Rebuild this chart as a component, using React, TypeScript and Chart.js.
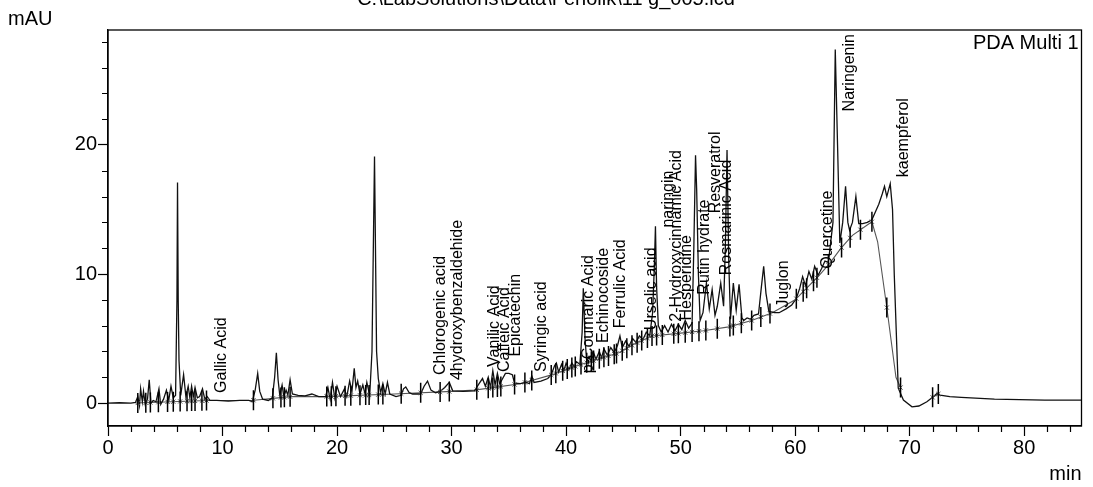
import { useEffect, useRef } from "react";
import { Chart, registerables } from "chart.js";

Chart.register(...registerables);

const TITLE = "C:\\LabSolutions\\Data\\Fenolik\\11 g_005.lcd";
const CHANNEL = "PDA Multi 1";
const Y_UNIT = "mAU";
const X_UNIT = "min";

const xTicks = [0, 10, 20, 30, 40, 50, 60, 70, 80];
const yTicks = [0, 10, 20];

// chromatogram trace: [time (min), absorbance (mAU)]
const tracePoints: [number, number][] = [
  [0, 0], [1, 0.02], [2, 0.0], [2.4, 0.05],
  [2.6, 0.5], [2.75, -0.2], [2.85, 1.1], [3.0, 0.1], [3.1, 0.9], [3.25, -0.1], [3.45, 0.3], [3.6, 1.8],
  [3.75, 0.0], [3.95, 0.2], [4.2, 0.1], [4.45, 1.1], [4.6, -0.1], [4.85, 0.3], [5.1, 1.0], [5.3, 0.2],
  [5.5, 1.3], [5.7, 0.4], [5.9, 0.6], [6.02, 8], [6.07, 17.1], [6.13, 8], [6.2, 3.3], [6.35, 0.6],
  [6.6, 2.2], [6.8, 0.5], [7.0, 1.3], [7.15, 0.4], [7.3, 1.3], [7.45, 0.5], [7.6, 1.2], [7.8, 0.4],
  [8.0, 0.5], [8.25, 1.1], [8.45, 0.3], [8.65, 0.5], [8.9, 0.2], [9.5, 0.2], [10.5, 0.15], [11.5, 0.2],
  [12.3, 0.2], [12.6, 0.1], [12.85, 1.0], [13.07, 2.3], [13.25, 0.9], [13.5, 0.3], [14.0, 0.2],
  [14.35, 0.4], [14.55, 2.0], [14.7, 3.9], [14.85, 1.8], [15.0, 0.6], [15.2, 1.4], [15.35, 0.5],
  [15.55, 1.0], [15.7, 0.6], [15.9, 1.8], [16.1, 0.7], [16.6, 0.6], [17.2, 0.55], [17.8, 0.7],
  [18.4, 0.5], [19.0, 0.5], [19.2, 1.2], [19.4, 0.3], [19.6, 1.6], [19.8, 0.4], [20.0, 1.3],
  [20.3, 0.5], [20.65, 1.1], [20.85, 0.5], [21.1, 1.7], [21.3, 0.9], [21.5, 2.7], [21.65, 1.2],
  [21.8, 1.7], [22.0, 0.7], [22.25, 1.4], [22.45, 0.7], [22.6, 1.6], [22.85, 0.6], [23.05, 4],
  [23.27, 19.1], [23.45, 4], [23.6, 1.9], [23.8, 0.8], [24.0, 1.5], [24.2, 0.7], [24.4, 1.6],
  [24.6, 0.7], [25.15, 0.5], [25.6, 0.6], [25.8, 1.1], [26.0, 1.25], [26.3, 0.8], [26.6, 0.7],
  [27.3, 0.7], [27.6, 1.3], [27.9, 1.7], [28.2, 1.0], [28.6, 0.8], [29.0, 0.9], [29.4, 1.2],
  [29.8, 1.6], [30.1, 0.95], [31, 0.9], [32.0, 0.95], [32.4, 1.5], [32.7, 1.9], [32.95, 1.3],
  [33.2, 2.0], [33.4, 1.2], [33.6, 2.5], [33.8, 1.4], [34.0, 2.3], [34.2, 1.5], [34.4, 1.8],
  [34.7, 2.3], [35.0, 2.3], [35.3, 2.2], [35.5, 1.55], [36.0, 1.5], [36.5, 1.6], [36.8, 1.5],
  [37.0, 2.1], [37.2, 1.6], [37.8, 1.7], [38.4, 1.9], [38.7, 2.2], [39.0, 2.9], [39.15, 3.1],
  [39.35, 2.4], [39.6, 3.0], [39.8, 2.5], [40.0, 3.1], [40.25, 2.6], [40.5, 3.1], [40.7, 2.8],
  [40.9, 3.2], [41.2, 3.0], [41.4, 5.5], [41.5, 8.9], [41.65, 5], [41.8, 3.2], [42.0, 3.6],
  [42.2, 3.2], [42.4, 3.9], [42.6, 3.4], [42.9, 4.0], [43.1, 3.5], [43.3, 4.2], [43.6, 3.7],
  [43.9, 4.3], [44.2, 3.9], [44.5, 4.5], [44.7, 5.2], [44.9, 4.3], [45.2, 4.8], [45.5, 4.4],
  [45.8, 5.0], [46.1, 4.7], [46.4, 5.2], [46.7, 4.9], [47.0, 5.5], [47.3, 5.2], [47.55, 7],
  [47.7, 10.5], [47.8, 13.7], [47.9, 9], [48.05, 6.0], [48.3, 5.5], [48.6, 6.0], [48.9, 5.5],
  [49.2, 6.1], [49.5, 5.6], [49.8, 6.1], [50.1, 5.7], [50.4, 6.4], [50.7, 5.8], [51.0, 6.2],
  [51.15, 12], [51.3, 19.2], [51.4, 16.5], [51.55, 10], [51.7, 6.4], [51.95, 7.0], [52.25, 9.3],
  [52.5, 7.3], [52.75, 8.8], [53.0, 6.8], [53.2, 7.5], [53.5, 9.3], [53.75, 7.5], [53.9, 12],
  [54.05, 19.6], [54.2, 11], [54.35, 6.5], [54.6, 9.3], [54.85, 7.2], [55.1, 9.2], [55.35, 6.6],
  [55.5, 6.4], [55.8, 6.6], [56.1, 6.5], [56.4, 6.8], [56.8, 6.9], [57.05, 9], [57.25, 10.6],
  [57.45, 8.5], [57.7, 7.1], [58.2, 7.0], [58.6, 7.0], [59.2, 7.3], [59.7, 7.6], [60.1, 8.1],
  [60.4, 8.9], [60.65, 9.8], [60.9, 9.1], [61.2, 10.2], [61.45, 9.6], [61.7, 10.6], [62.0, 9.9],
  [62.3, 10.4], [62.6, 11.0], [62.9, 10.9], [63.3, 14], [63.5, 27.4], [63.7, 20], [63.9, 12.4],
  [64.15, 14], [64.4, 16.8], [64.6, 14], [64.75, 13.4], [65.0, 14], [65.3, 16.0], [65.55, 13.9],
  [65.9, 13.9], [66.3, 14.0], [66.7, 14.2], [67.0, 14.8], [67.3, 15.4], [67.6, 16.2], [67.8, 16.8],
  [68.0, 16.0], [68.3, 17.0], [68.5, 15.0], [68.65, 10], [68.8, 6.2], [69.0, 1.15], [69.45, 0.23],
  [70.2, -0.29], [70.8, -0.23], [71.5, 0.1], [72.0, 0.44], [72.4, 0.75], [72.65, 0.62], [73.5, 0.5],
  [74.5, 0.44], [77.4, 0.31], [81.8, 0.23], [85, 0.22],
];

// integration baseline drawn under the peaks (null = break)
const baselinePoints: [number, number | null][] = [
  [2.4, 0], [8.7, 0.2], [12.5, 0.2], [16, 0.5], [19, 0.5], [25, 0.7], [30, 0.9], [32, 1.0],
  [36, 1.5], [38.8, 2.2], [40, 2.6], [41.7, 3.1], [44.6, 3.9], [46, 4.6], [47.5, 5.2], [49.8, 5.4],
  [52, 5.6], [54.2, 5.9], [56.2, 6.4], [58, 7.0], [60, 8.0], [61, 8.9], [62, 9.8], [63, 10.8],
  [64, 12.0], [65, 13.0], [66.7, 14.05], [67.2, 12.5], [68.0, 7.4], [68.8, 2.0], [69.2, 1.2],
  [70.5, null], [72.0, 0.44], [72.5, 0.7],
];

// peak start / end marks (min)
const markerTimes = [
  2.6, 3.3, 3.7, 4.4, 5.2, 5.7, 6.3, 6.9, 7.3, 7.6, 8.2, 8.6, 12.7, 14.4, 15.1, 15.4, 15.9, 19.1,
  19.5, 19.9, 20.7, 21.2, 22.0, 22.5, 22.8, 23.6, 24.0, 25.6, 27.3, 29.0, 29.8, 32.2, 33.2, 33.6,
  34.0, 34.3, 35.5, 36.4, 37.0, 38.7, 39.1, 39.7, 40.1, 40.5, 40.8, 41.3, 41.8, 42.2, 42.4, 42.9,
  43.3, 43.7, 44.2, 44.4, 44.9, 45.3, 45.75, 46.2, 46.6, 47.1, 47.5, 47.9, 48.4, 49.4, 49.8, 50.4,
  51.0, 51.6, 52.2, 53.2, 54.3, 54.6, 55.3, 56.2, 57.0, 57.8, 60.1, 60.7, 61.0, 61.6, 61.9, 62.9,
  64.05, 64.8, 65.7, 66.7, 68.0, 69.2, 72.0, 72.5,
];

const peakNames = [
  "Gallic Acid", "Chlorogenic acid", "4hydroxybenzaldehide", "Vanilic Acid", "Caffeic Acid",
  "Epicatechin", "Syringic acid", "p-Coumaric Acid", "Echinocoside", "Ferrulic Acid", "Urselic acid",
  "naringin", "2-Hydroxycinnamic Acid", "Hesperidine", "Rutin hydrate", "Resveratrol",
  "Rosmarinic Acid", "Juglon", "Quercetine", "Naringenin", "kaempferol",
];
const peakTimes = [
  9.9, 29.0, 30.54, 33.73, 34.6, 35.6, 37.9, 42.0, 43.3, 44.77, 47.5, 48.98, 49.67, 50.54, 52.1,
  53.05, 53.99, 59.0, 62.83, 64.75, 69.5,
];
const peakLabelLevels = [
  0.78, 2.17, 1.78, 2.8, 2.4, 3.6, 2.4, 2.3, 4.65, 5.8, 5.65, 13.6, 6.3, 6.4, 8.4, 14.7, 9.9, 7.4,
  10.4, 22.6, 17.5,
];

const FONT = "'Liberation Sans', Arial, sans-serif";

function baselineAt(t: number): number {
  for (let i = 0; i < baselinePoints.length - 1; i++) {
    const [t0, v0] = baselinePoints[i];
    const [t1, v1] = baselinePoints[i + 1];
    if (t >= t0 && t <= t1 && v0 !== null && v1 !== null) {
      return v0 + ((v1 - v0) * (t - t0)) / (t1 - t0);
    }
  }
  const last = baselinePoints[baselinePoints.length - 1][1] as number;
  return t < baselinePoints[0][0] ? 0 : last;
}

const decorPlugin = {
  id: "decor",
  afterDatasetsDraw(chart: any) {
    const { ctx, scales } = chart;
    const xs = scales.x;
    const ys = scales.y;
    ctx.save();
    ctx.fillStyle = "#000";
    ctx.font = `16px ${FONT}`;
    ctx.textAlign = "left";
    ctx.textBaseline = "middle";
    peakNames.forEach((name, i) => {
      const px = xs.getPixelForValue(peakTimes[i]);
      const py = ys.getPixelForValue(peakLabelLevels[i]);
      ctx.save();
      ctx.translate(px, py);
      ctx.rotate(-Math.PI / 2);
      ctx.fillText(name, 0, 0);
      ctx.restore();
    });
    ctx.restore();
  },
  afterDraw(chart: any) {
    const { ctx, scales, chartArea } = chart;
    const xs = scales.x;
    const ys = scales.y;
    ctx.save();
    ctx.strokeStyle = "#000";
    ctx.lineWidth = 1.3;
    ctx.strokeRect(chartArea.left, chartArea.top, chartArea.right - chartArea.left, chartArea.bottom - chartArea.top);
    ctx.lineWidth = 1.2;
    ctx.beginPath();
    for (let v = 2; v < 85; v += 2) {
      if (v % 10 === 0) continue;
      const px = Math.round(xs.getPixelForValue(v)) + 0.5;
      ctx.moveTo(px, chartArea.bottom);
      ctx.lineTo(px, chartArea.bottom + 6);
    }
    for (let v = 2; v < 29; v += 2) {
      if (v % 10 === 0) continue;
      const py = Math.round(ys.getPixelForValue(v)) + 0.5;
      ctx.moveTo(chartArea.left, py);
      ctx.lineTo(chartArea.left - 6, py);
    }
    ctx.stroke();
    ctx.fillStyle = "#000";
    ctx.font = `20px ${FONT}`;
    ctx.textBaseline = "alphabetic";
    ctx.textAlign = "center";
    ctx.fillText(TITLE, 546, 5);
    ctx.textAlign = "left";
    ctx.fillText(Y_UNIT, 8, 25);
    ctx.textAlign = "right";
    ctx.fillText(CHANNEL, chartArea.right - 3, 49);
    ctx.fillText(X_UNIT, chartArea.right, 480);
    ctx.restore();
  },
};

export default function App() {
  const canvasRef = useRef<HTMLCanvasElement | null>(null);

  useEffect(() => {
    const canvas = canvasRef.current;
    if (!canvas) return;
    const chart = new Chart(canvas, {
      type: "line",
      data: {
        datasets: [
          {
            label: "marks",
            type: "scatter",
            data: markerTimes.map((t) => ({ x: t, y: baselineAt(t) })),
            pointStyle: "line",
            rotation: 90,
            pointRadius: 10,
            pointBorderWidth: 1.5,
            pointBorderColor: "#000",
            pointBackgroundColor: "#000",
            showLine: false,
            order: 0,
          } as any,
          {
            label: "crosses",
            type: "scatter",
            data: markerTimes.map((t) => ({ x: t, y: baselineAt(t) })),
            pointStyle: "crossRot",
            pointRadius: 3,
            pointBorderWidth: 1,
            pointBorderColor: "#555",
            showLine: false,
            order: 1,
          } as any,
          {
            label: "trace",
            data: tracePoints.map(([x, y]) => ({ x, y })),
            borderColor: "#111",
            borderWidth: 1.3,
            pointRadius: 0,
            tension: 0,
            fill: false,
            order: 2,
          },
          {
            label: "baseline",
            data: baselinePoints.map(([x, y]) => ({ x, y })),
            borderColor: "#555",
            borderWidth: 1.1,
            pointRadius: 0,
            tension: 0,
            fill: false,
            spanGaps: false,
            order: 3,
          },
        ],
      },
      options: {
        responsive: false,
        animation: false,
        devicePixelRatio: 1,
        layout: { padding: { top: 30, right: 10, left: 0, bottom: 0 } },
        plugins: { legend: { display: false }, tooltip: { enabled: false }, title: { display: false } },
        scales: {
          x: {
            type: "linear",
            min: 0,
            max: 85,
            afterBuildTicks: (scale: any) => {
              scale.ticks = xTicks.map((v) => ({ value: v }));
            },
            afterFit: (scale: any) => {
              scale.height = 61;
            },
            ticks: {
              color: "#000",
              font: { family: FONT, size: 20 },
              padding: 0,
              maxRotation: 0,
              autoSkip: false,
            },
            grid: { display: true, drawOnChartArea: false, drawTicks: true, tickLength: 10, tickColor: "#000", tickWidth: 1.2 },
            border: { display: true, color: "#000", width: 1.3 },
          },
          y: {
            type: "linear",
            min: -1.78,
            max: 28.91,
            afterBuildTicks: (scale: any) => {
              scale.ticks = yTicks.map((v) => ({ value: v }));
            },
            afterFit: (scale: any) => {
              scale.width = 108;
            },
            ticks: {
              color: "#000",
              font: { family: FONT, size: 20 },
              padding: 1,
            },
            grid: { display: true, drawOnChartArea: false, drawTicks: true, tickLength: 10, tickColor: "#000", tickWidth: 1.2 },
            border: { display: true, color: "#000", width: 1.3 },
          },
        },
      } as any,
      plugins: [decorPlugin],
    });
    return () => chart.destroy();
  }, []);

  return (
    <div style={{ position: "absolute", left: 0, top: 0, width: 1093, height: 487, background: "#fff" }}>
      <canvas ref={canvasRef} width={1093} height={487} style={{ display: "block" }} />
    </div>
  );
}
